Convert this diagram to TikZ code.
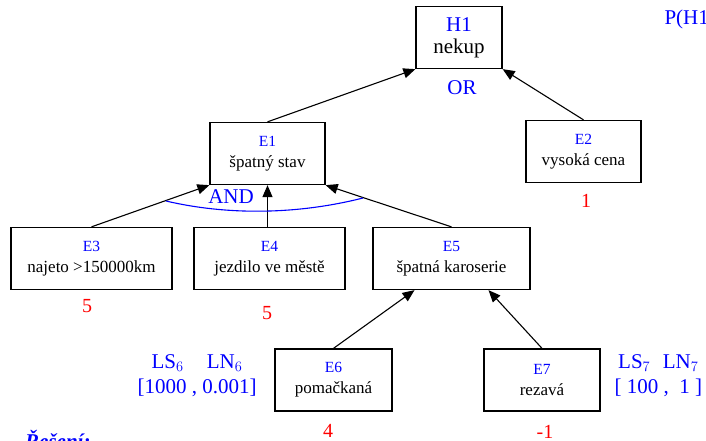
\documentclass[tikz,border=0pt]{standalone}
\usepackage{fontspec}
\setmainfont{Liberation Serif}
\usepackage{tikz}
\usetikzlibrary{arrows.meta, positioning}

\begin{document}
\begin{tikzpicture}[x=1pt, y=-1pt]
        \tikzset{evbox/.style={draw, line width=1.3pt, minimum height=62pt,
                 align=center, inner sep=0pt, font=\fontsize{17}{21}\selectfont},
                 ev/.style={-{Triangle[length=12pt, width=10pt]}, line width=1.1pt},
                 cf/.style={text=red, font=\fontsize{20}{22}\selectfont},
                 blu/.style={text=blue, font=\fontsize{21}{25}\selectfont}}
        \newcommand{\evlab}[1]{{\fontsize{15.5}{21}\selectfont\textcolor{blue}{#1}}}
        \useasboundingbox (0,0) rectangle (706,441);

        \node[evbox, minimum width=86pt, font=\fontsize{21}{22}\selectfont]
              (h1) at (459,37.5) {\textcolor{blue}{H1}\\nekup};
        \node[evbox, minimum width=115pt] (e1) at (267.5,153.5) {\evlab{E1}\\špatný stav};
        \node[evbox, minimum width=115pt] (e2) at (583.5,151.5) {\evlab{E2}\\vysoká cena};
        \node[evbox, minimum width=161pt] (e3) at (91.5,258.5) {\evlab{E3}\\najeto >150000km};
        \node[evbox, minimum width=151pt] (e4) at (269.5,258.5) {\evlab{E4}\\jezdilo ve městě};
        \node[evbox, minimum width=157pt] (e5) at (451.5,258.5) {\evlab{E5}\\špatná karoserie};
        \node[evbox, minimum width=117pt] (e6) at (333.5,380) {\evlab{E6}\\pomačkaná};
        \node[evbox, minimum width=116pt] (e7) at (542,380) {\evlab{E7}\\rezavá};

        \draw[ev] (e1.north) -- (h1.south west);
        \draw[ev] (e2.north) -- (h1.south east);
        \draw[ev] (e3.north) -- (e1.south west);
        \draw[ev] (e1.south |- e4.north) -- (e1.south);
        \draw[ev] (e5.north) -- (e1.south east);
        \draw[ev] (e6.north) -- ([xshift=-37pt]e5.south);
        \draw[ev] (e7.north) -- ([xshift=37pt]e5.south);

        \node[blu] (or) at (462,88) {OR};
        \draw[blue, line width=1.1pt] (166,201) .. controls (230,216) and (300,214) .. (363,198);
        \node[blu] (and) at (231,197) {AND};

        \node[cf] (c2) at (586,201) {1};
        \node[cf] (c3) at (87,306) {5};
        \node[cf] (c4) at (267,313) {5};
        \node[cf] (c6) at (328,431) {4};
        \node[cf] (c7) at (545,432) {-1};

        \node[blu, align=center] (w6) at (197,376) {LS$_6$\hspace{1.1em}LN$_6$\\{}[1000 , 0.001]};
        \node[blu, align=center, anchor=west] (w7) at (611,376) {LS$_7$\hspace{0.6em}LN$_7$\\{}[ 100 ,\ \ 1 ]};
        \node[blu, anchor=west] (ph) at (661,19) {P(H1)};
        \node[blu, anchor=north west, inner sep=0pt, font=\fontsize{21}{25}\selectfont\bfseries\itshape]
              (res) at (25,430) {\underline{Řešení:}};
\end{tikzpicture}
\end{document}
